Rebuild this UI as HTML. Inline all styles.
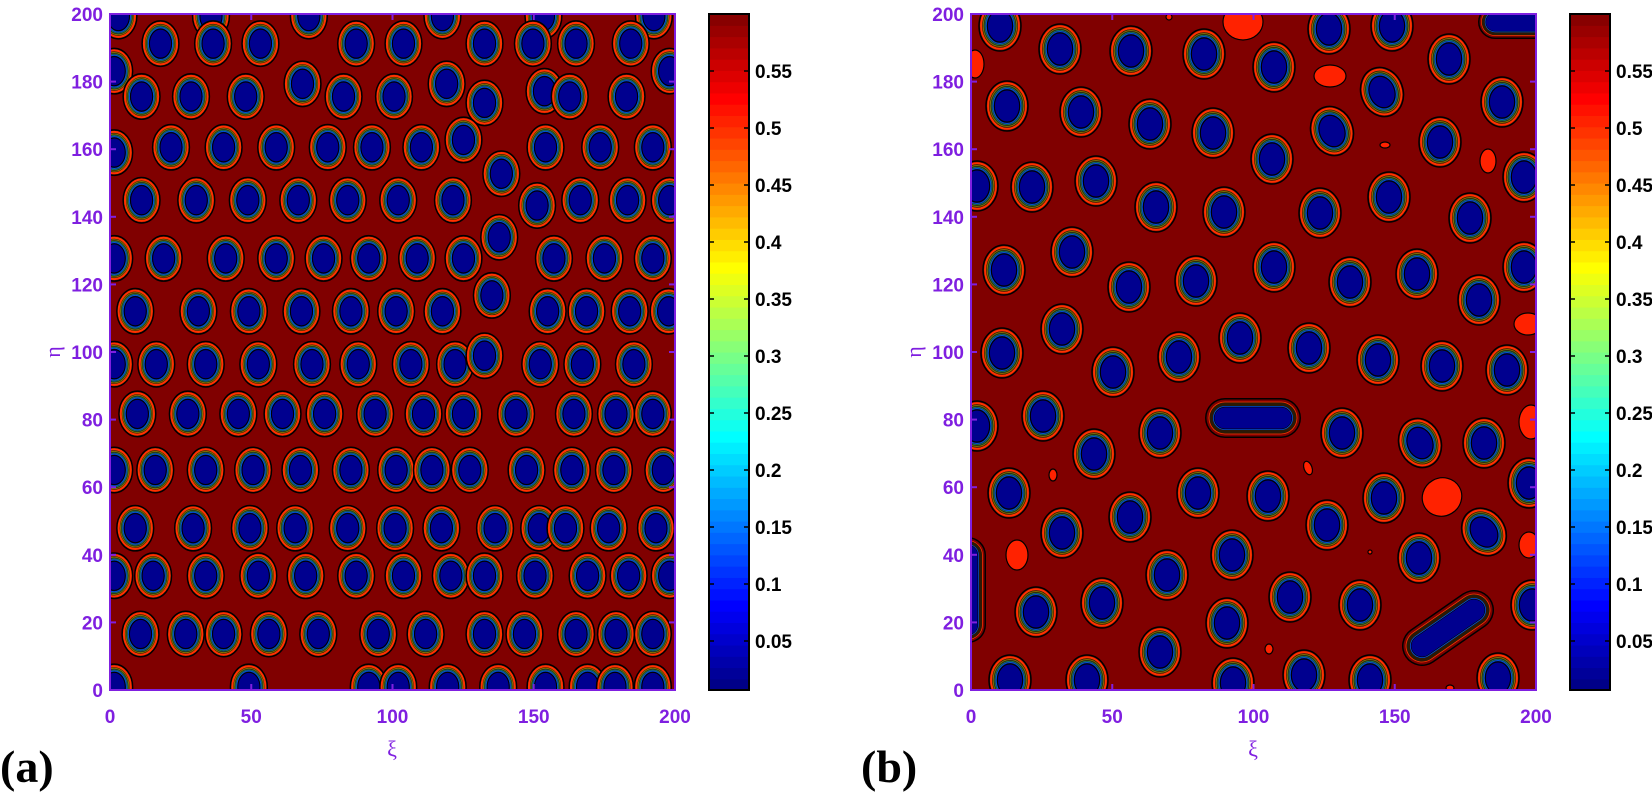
<!DOCTYPE html>
<html><head><meta charset="utf-8"><style>
html,body{margin:0;padding:0;background:#fff;width:1652px;height:799px;overflow:hidden}
svg{display:block}
</style></head><body>
<svg id="s" width="1652" height="799" xmlns="http://www.w3.org/2000/svg" font-family="Liberation Sans, sans-serif">
<defs>
<clipPath id="ca"><rect x="110" y="14" width="565" height="676"/></clipPath>
<clipPath id="cb"><rect x="971" y="14" width="565" height="676"/></clipPath>
<g id="B">
<ellipse rx="1" ry="1" fill="#7a0000" stroke="#000" stroke-width="1.5" vector-effect="non-scaling-stroke"/>
<ellipse rx=".9" ry=".91" fill="#2a1a06" stroke="#ff3300" stroke-width="2" vector-effect="non-scaling-stroke"/>
<ellipse rx=".8" ry=".82" fill="none" stroke="#807000" stroke-width="1" vector-effect="non-scaling-stroke"/>
<ellipse rx=".72" ry=".75" fill="none" stroke="#107060" stroke-width="1" vector-effect="non-scaling-stroke"/>
<ellipse rx=".66" ry=".7" fill="#001050" stroke="#0050e0" stroke-width="1" vector-effect="non-scaling-stroke"/>
<ellipse rx=".6" ry=".64" fill="#00008f" stroke="#000" stroke-width="1" vector-effect="non-scaling-stroke"/>
</g>
</defs>
<rect x="110" y="14" width="565" height="676" fill="#800000"/>
<rect x="971" y="14" width="565" height="676" fill="#800000"/>
<g clip-path="url(#ca)"><g id="ga" transform="translate(110,14) scale(1.052,1.058) translate(-104,-14)"></g></g>
<g clip-path="url(#cb)" id="gb"></g>
<g id="ax"></g>
</svg>
<script>
const NS="http://www.w3.org/2000/svg";
function el(p,t,a,txt){const e=document.createElementNS(NS,t);for(const k in a)e.setAttribute(k,a[k]);if(txt!==undefined)e.textContent=txt;p.appendChild(e);return e;}
function blob(g,x,y,rx,ry,rot){el(g,'use',{href:'#B',transform:`translate(${x},${y}) rotate(${rot||0}) scale(${rx},${ry})`});}
function caps(g,x1,y1,x2,y2,w){
 const L=[[w,'#000'],[w-3,'#7a0000'],[w*0.82,'#ff3300'],[w*0.78,'#2a1a06'],[w*0.6,'#0050e0'],[w*0.56,'#000'],[w*0.53,'#00008f']];
 for(const [sw,c] of L) el(g,'line',{x1,y1,x2,y2,stroke:c,'stroke-width':sw,'stroke-linecap':'round'});
}
const ga=document.getElementById('ga'), gb=document.getElementById('gb'), ax=document.getElementById('ax');
const A=[[112,16],[200,16],[293,16],[420,16],[516,16],[621,16],
[152,42],[202,42],[247,42],[338,42],[383,42],[460,42],[506,42],[547,42],[599,42],
[108,68],[636,68],[287,80],[424,80],[517,87],
[134,92],[181,92],[233,92],[326,92],[374,92],[460,98],[541,92],[595,92],
[108,145],[162,140],[212,140],[262,140],[311,140],[353,140],[400,140],[440,133],[518,140],[570,140],[620,140],
[134,190],[186,190],[235,190],[283,190],[330,190],[378,190],[430,190],[476,165],[510,195],[551,190],[596,190],[636,190],
[108,245],[155,245],[214,245],[262,245],[307,245],[350,245],[396,245],[440,245],[474,225],[526,245],[574,245],[620,245],
[128,295],[188,295],[236,295],[286,295],[333,295],[376,295],[420,295],[467,280],[520,295],[557,295],[598,295],[635,295],
[108,345],[148,345],[195,345],[245,345],[296,345],[340,345],[390,345],[432,345],[460,337],[513,345],[553,345],[602,345],
[130,392],[178,392],[226,392],[268,392],[308,392],[356,392],[402,392],[440,392],[490,392],[545,392],[585,392],[620,392],
[108,445],[147,445],[195,445],[240,445],[285,445],[333,445],[376,445],[410,445],[446,445],[500,445],[543,445],[583,445],[630,445],
[128,500],[183,500],[237,500],[280,500],[330,500],[375,500],[419,500],[470,500],[512,500],[537,500],[578,500],[623,500],
[108,545],[145,545],[195,545],[245,545],[290,545],[338,545],[383,545],[428,545],[460,545],[508,545],[558,545],[597,545],[636,545],
[133,600],[176,600],[212,600],[255,600],[302,600],[359,600],[404,600],[460,600],[498,600],[547,600],[585,600],[620,600],
[108,650],[236,650],[350,650],[378,650],[425,650],[473,650],[518,650],[558,650],[584,650],[620,650]];
for(const [x,y] of A) blob(ga,x,y,17.5,21.5);
const R=[[975,64,9,14,0],[1243,22,20,18,0],[1169,17,3,3,0],[1330,76,16,11,0],[1385,145,5,3,0],[1488,161,8,12,0],[1528,324,14,11,0],
[1053,475,4,6,0],[1017,555,11,15,0],[1442,497,20,19,-30],[1531,422,12,17,0],[1308,468,4,7,-20],[1529,545,10,13,0],[1269,649,4,5,0],[1450,688,4,3,0],[1370,552,2,2,0]];
for(const [x,y,rx,ry,r] of R) el(gb,'ellipse',{cx:x,cy:y,rx,ry,fill:'#ff2200',stroke:'#000','stroke-width':1.2,transform:`rotate(${r} ${x} ${y})`});
const Bb=[[1000,26],[1060,49],[1131,51],[1204,54],[1007,106],[1081,112],[1150,124],[1213,133],[977,186],[1032,187],[1096,181],[1156,207],[1224,212],
[1004,270],[1072,252],[1129,287],[1196,281],[1062,329],
[1329,29],[1392,26],[1274,67],[1449,59],[1382,92,-20],[1502,102],[1332,131,-20],[1440,142],[1272,159],[1524,177],[1389,197],[1320,213],[1470,218],
[1274,267],[1350,282],[1417,274],[1479,300],[1524,267],
[1002,353],[1113,372],[1179,357],[1240,338],[1043,416],[977,426],[1160,433],[1094,454],[1009,493],[1130,517],[1198,493],[1268,496],
[1062,533],[1167,575],[1232,555],[1036,612],[1102,603],[1227,623],[1160,652],[1010,680],[1087,680],[1233,683],
[1309,348],[1378,360],[1442,366],[1507,370],[1342,433],[1420,443,-20],[1484,443],[1384,498],[1327,525],[1529,483],[1484,532,-35],[1419,558],
[1290,597],[1360,605],[1532,605],[1304,675],[1370,680],[1498,678]];
for(const b of Bb) blob(gb,b[0],b[1],21,25,b[2]||0);
caps(gb,1225,418,1281,418,40);
caps(gb,1422,646,1474,610,40);
caps(gb,968,555,968,625,36);
caps(gb,1495,22,1540,22,34);
const P='#7f1fe0';
function axes(x0,lab){
 const y0=14,w=565,h=676;
 el(ax,'rect',{x:x0,y:y0,width:w,height:h,fill:'none',stroke:P,'stroke-width':2});
 for(let v=0;v<=200;v+=20){const y=y0+h-v*3.38;
  el(ax,'line',{x1:x0,y1:y,x2:x0+6,y2:y,stroke:P,'stroke-width':2});
  el(ax,'line',{x1:x0+w,y1:y,x2:x0+w-6,y2:y,stroke:P,'stroke-width':2});
  el(ax,'text',{x:x0-7,y:y+7,'text-anchor':'end','font-size':19,'font-weight':'bold',fill:P},v);}
 for(let v=0;v<=200;v+=50){const x=x0+v*2.825;
  el(ax,'line',{x1:x,y1:y0+h,x2:x,y2:y0+h-6,stroke:P,'stroke-width':2});
  el(ax,'line',{x1:x,y1:y0,x2:x,y2:y0+6,stroke:P,'stroke-width':2});
  el(ax,'text',{x:x,y:723,'text-anchor':'middle','font-size':19,'font-weight':'bold',fill:P},v);}
 el(ax,'text',{x:x0+282,y:756,'text-anchor':'middle','font-size':22,fill:P,'font-family':'Liberation Serif, serif'},'ξ');
 el(ax,'text',{x:0,y:0,'text-anchor':'middle','font-size':22,fill:P,'font-family':'Liberation Serif, serif',transform:`translate(${x0-50},352) rotate(-90)`},'η');
 el(ax,'text',{x:x0-110,y:782,'font-size':46,'font-weight':'bold',fill:'#000','font-family':'Liberation Serif, serif'},lab);
}
axes(110,'(a)');axes(971,'(b)');
function jet(t){const c=v=>Math.round(255*Math.max(0,Math.min(1,v)));
 return `rgb(${c(1.5-Math.abs(4*t-3))},${c(1.5-Math.abs(4*t-2))},${c(1.5-Math.abs(4*t-1))})`;}
function cbar(x0){
 const w=40,y0=14,h=676,N=60;
 for(let i=0;i<N;i++){const t=(i+0.5)/N;el(ax,'rect',{x:x0,y:y0+h-(i+1)*h/N,width:w,height:h/N+0.6,fill:jet(t)});}
 el(ax,'rect',{x:x0,y:y0,width:w,height:h,fill:'none',stroke:'#000','stroke-width':2});
 const labs=['0.05','0.1','0.15','0.2','0.25','0.3','0.35','0.4','0.45','0.5','0.55'];
 labs.forEach((s,i)=>{const v=(i+1)*0.05;const y=y0+(0.6-v)/0.05*57;
  el(ax,'line',{x1:x0,y1:y,x2:x0+5,y2:y,stroke:'#000','stroke-width':1.5});
  el(ax,'line',{x1:x0+w,y1:y,x2:x0+w-5,y2:y,stroke:'#000','stroke-width':1.5});
  el(ax,'text',{x:x0+w+6,y:y+7,'font-size':19,'font-weight':'bold',fill:'#000'},s);});
}
cbar(709);cbar(1570);
</script>
</body></html>
